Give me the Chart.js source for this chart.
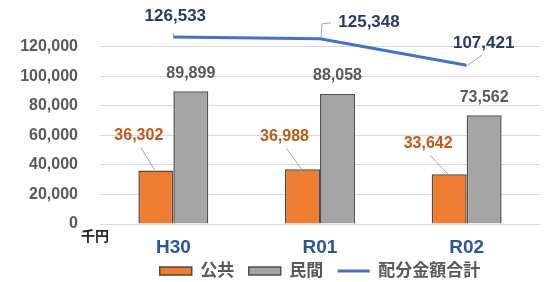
<!DOCTYPE html>
<html>
<head>
<meta charset="utf-8">
<script src="https://cdn.jsdelivr.net/npm/chart.js@4/dist/chart.umd.min.js"></script>
<style>
  html, body { margin: 0; padding: 0; background: #fff; }
</style>
</head>
<body>
<canvas id="chart" width="549" height="282"></canvas>
<script>
// data (千円)
const categories    = ['H30', 'R01', 'R02'];
const publicValues  = [36302, 36988, 33642];
const privateValues = [89899, 88058, 73562];
const totalValues   = [126533, 125348, 107421];
const yTicks        = [0, 20000, 40000, 60000, 80000, 100000, 120000];
const seriesNames   = ['公共', '民間', '配分金額合計'];
const unitLabel     = '千円';

const FONT = "'Liberation Sans', 'Noto Sans CJK JP', sans-serif";
const fmt = (v) => v.toLocaleString('en-US');

// label offsets from the mark (px), mimic Excel's dragged labels
const pubLabelOffset   = [[-17, -35], [-18, -33], [-21, -31]];
const totalLabelOffset = [[2, -21], [49, -17], [17, -22]];

function leader(ctx, pts) {
  ctx.beginPath();
  ctx.moveTo(pts[0][0], pts[0][1]);
  for (let i = 1; i < pts.length; i++) ctx.lineTo(pts[i][0], pts[i][1]);
  ctx.strokeStyle = '#a6a6a6';
  ctx.lineWidth = 1;
  ctx.stroke();
}

function label(ctx, txt, x, y, color, size) {
  ctx.font = 'bold ' + size + 'px ' + FONT;
  ctx.fillStyle = color;
  ctx.textAlign = 'center';
  ctx.textBaseline = 'middle';
  ctx.fillText(txt, x, y);
}

const valueLabels = {
  id: 'valueLabels',
  afterDatasetsDraw(chart) {
    const ctx = chart.ctx;
    ctx.save();

    chart.getDatasetMeta(0).data.forEach((bar, i) => {
      const [dx, dy] = pubLabelOffset[i];
      const lx = bar.x + dx, ly = bar.y + dy;
      leader(ctx, [[lx + 2, ly + 12], [bar.x - 1, bar.y]]);
      label(ctx, fmt(publicValues[i]), lx, ly, '#bb5a1c', 16);
    });

    chart.getDatasetMeta(1).data.forEach((bar, i) => {
      label(ctx, fmt(privateValues[i]), bar.x, bar.y - 18, '#595959', 16);
    });

    chart.getDatasetMeta(2).data.forEach((p, i) => {
      const [dx, dy] = totalLabelOffset[i];
      const lx = p.x + dx, ly = p.y + dy;
      if (i === 0) leader(ctx, [[p.x, p.y - 4], [p.x, p.y - 1]]);
      if (i === 1) leader(ctx, [[p.x + 1, p.y - 2], [p.x + 2, ly + 2], [p.x + 11, ly + 1]]);
      if (i === 2) leader(ctx, [[p.x + 1, p.y], [p.x + 15, p.y - 10]]);
      label(ctx, fmt(totalValues[i]), lx, ly, '#2e3862', 17);
    });

    // category names under the axis
    const xs = chart.scales.x;
    const y0 = chart.scales.y.getPixelForValue(0);
    categories.forEach((c, i) => {
      label(ctx, c, xs.getPixelForValue(i), y0 + 24, '#2f5597', 19);
    });

    // unit under the zero tick
    ctx.font = 'bold 14px ' + FONT;
    ctx.fillStyle = '#262626';
    ctx.textAlign = 'left';
    ctx.textBaseline = 'middle';
    ctx.fillText(unitLabel, 81, y0 + 13);

    ctx.restore();
  }
};

const legendStyles = ['rect', 'rect', 'line'];

new Chart(document.getElementById('chart'), {
  type: 'bar',
  data: {
    labels: categories,
    datasets: [
      {
        label: seriesNames[0],
        data: publicValues,
        backgroundColor: '#ed7d31',
        borderColor: '#5e4434',
        borderWidth: 1.5,
        categoryPercentage: 0.477,
        barPercentage: 1
      },
      {
        label: seriesNames[1],
        data: privateValues,
        backgroundColor: '#a5a5a5',
        borderColor: '#4f4f4f',
        borderWidth: 1.5,
        categoryPercentage: 0.477,
        barPercentage: 1
      },
      {
        type: 'line',
        label: seriesNames[2],
        data: totalValues,
        borderColor: '#4472c4',
        backgroundColor: '#4472c4',
        borderWidth: 3,
        pointRadius: 0,
        tension: 0,
        fill: false
      }
    ]
  },
  options: {
    responsive: false,
    animation: false,
    layout: { padding: { left: 0, right: 9, top: 32, bottom: 0 } },
    plugins: {
      tooltip: { enabled: false },
      legend: {
        position: 'bottom',
        fullSize: false,
        maxHeight: 34,
        labels: {
          usePointStyle: true,
          pointStyleWidth: 32,
          boxHeight: 8,
          padding: 14.5,
          color: '#595959',
          font: { family: FONT, size: 17, weight: 'bold' },
          generateLabels(chart) {
            const items = Chart.defaults.plugins.legend.labels.generateLabels(chart);
            items.forEach((it) => { it.pointStyle = legendStyles[it.datasetIndex]; });
            return items;
          }
        }
      }
    },
    scales: {
      x: {
        grid: { display: false, drawTicks: false },
        border: { display: false },
        ticks: { display: false },
        afterFit(scale) { scale.height = 24; }
      },
      y: {
        min: 0,
        max: 130000,
        grid: { color: '#d9d9d9', lineWidth: 1, drawTicks: false },
        border: { display: false },
        ticks: {
          includeBounds: false,
          autoSkip: false,
          padding: 22,
          color: '#595959',
          font: { family: FONT, size: 16, weight: 'bold' },
          callback: (v) => fmt(v)
        },
        afterBuildTicks(scale) { scale.ticks = yTicks.map(v => ({ value: v })); },
        afterFit(scale) { scale.width = 100; }
      }
    }
  },
  plugins: [valueLabels]
});
</script>
</body>
</html>
